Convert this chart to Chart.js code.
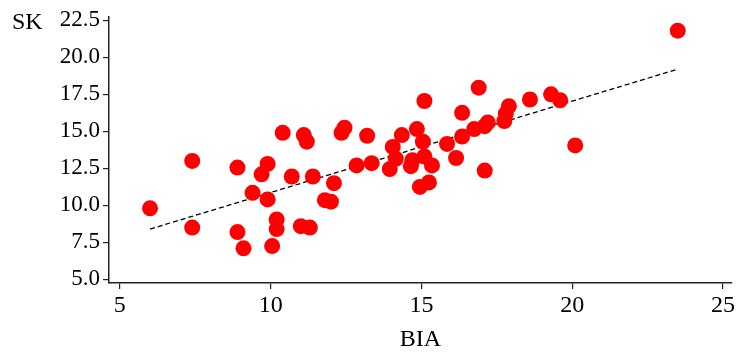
<!DOCTYPE html>
<html lang="en">
<head>
    <meta charset="UTF-8">
    <title>SK vs BIA</title>
    <style>
        body {
            margin: 0;
            padding: 0;
            background-color: #ffffff;
        }
        .chart-box {
            position: relative;
            width: 740px;
            height: 354px;
        }
    </style>
</head>
<body>
    <div class="chart-box">
        <canvas id="scatterChart"></canvas>
    </div>

    <script src="https://cdn.jsdelivr.net/npm/chart.js"></script>
    <script>
        // Values
        const bia = [6.0, 7.4, 7.4, 8.9, 8.9, 9.1, 9.4, 9.7, 9.9, 9.9,
                     10.05, 10.2, 10.2, 10.4, 10.7, 11.0, 11.1, 11.2, 11.3, 11.4,
                     11.8, 12.0, 12.1, 12.35, 12.45, 12.85, 13.2, 13.35, 13.95, 14.05,
                     14.15, 14.35, 14.65, 14.7, 14.85, 15.05, 15.1, 15.1, 15.35, 14.95,
                     15.25, 15.85, 16.15, 16.35, 16.35, 16.75, 16.9, 17.1, 17.1, 17.2,
                     17.75, 17.8, 17.9, 18.6, 19.3, 19.6, 20.1, 23.5];
        const sk = [9.8, 13.0, 8.5, 12.55, 8.2, 7.1, 10.85, 12.1, 12.8, 10.4,
                    7.25, 9.05, 8.4, 14.9, 11.95, 8.6, 14.75, 14.3, 8.5, 11.95,
                    10.35, 10.25, 11.5, 14.9, 15.25, 12.7, 14.7, 12.85, 12.45, 13.95,
                    13.15, 14.75, 12.65, 13.05, 15.15, 14.3, 13.3, 17.05, 12.7, 11.25,
                    11.55, 14.15, 13.2, 16.25, 14.65, 15.15, 17.95, 12.35, 15.35, 15.6,
                    15.7, 16.2, 16.7, 17.15, 17.5, 17.1, 14.05, 21.8];

        // Fitted line (ends)
        const fitX = [6.0, 23.5];
        const fitY = [8.4, 19.2];

        const xTicks = [5, 10, 15, 20, 25];
        const yTicks = [5, 7.5, 10, 12.5, 15, 17.5, 20, 22.5];

        const serif = "'Liberation Serif', 'Times New Roman', serif";

        // Y axis label sits at the top-left, horizontal
        const cornerLabel = {
            id: 'cornerLabel',
            afterDraw(chart) {
                const ctx = chart.ctx;
                ctx.save();
                ctx.font = '24px ' + serif;
                ctx.fillStyle = '#000';
                ctx.textBaseline = 'middle';
                ctx.textAlign = 'left';
                ctx.fillText('SK', 12, 23);
                ctx.restore();
            }
        };

        const axisStyle = {
            grid: { drawOnChartArea: false, drawTicks: true, tickLength: 6, color: '#222', lineWidth: 1.2 },
            border: { display: true, color: '#222', width: 1.5 }
        };

        new Chart(document.getElementById('scatterChart'), {
            type: 'scatter',
            data: {
                datasets: [{
                    label: 'SK',
                    data: bia.map((v, i) => ({ x: v, y: sk[i] })),
                    backgroundColor: '#ff0000',
                    borderColor: '#ff0000',
                    pointRadius: 8,
                    pointHoverRadius: 8,
                    borderWidth: 0
                }, {
                    label: 'fit',
                    data: fitX.map((v, i) => ({ x: v, y: fitY[i] })),
                    showLine: true,
                    borderColor: '#000',
                    borderWidth: 1.3,
                    borderDash: [5, 3],
                    pointRadius: 0,
                    fill: false
                }]
            },
            options: {
                responsive: true,
                maintainAspectRatio: false,
                animation: false,
                layout: { padding: { top: 17, right: 2, left: 0, bottom: 0 } },
                plugins: {
                    legend: { display: false },
                    tooltip: { enabled: false }
                },
                scales: {
                    x: {
                        type: 'linear',
                        min: 4.64,
                        max: 25.3,
                        afterBuildTicks: s => { s.ticks = xTicks.map(v => ({ value: v })); },
                        afterFit: s => { s.height = 71; },
                        ...axisStyle,
                        ticks: { color: '#000', font: { family: serif, size: 24 }, padding: 2, maxRotation: 0, autoSkip: false },
                        title: { display: true, text: 'BIA', color: '#000', font: { family: serif, size: 24 }, padding: { top: 0, bottom: 0 } }
                    },
                    y: {
                        type: 'linear',
                        min: 4.76,
                        max: 22.72,
                        afterBuildTicks: s => { s.ticks = yTicks.map(v => ({ value: v })); },
                        afterFit: s => { s.width = 109; },
                        ...axisStyle,
                        ticks: { color: '#000', font: { family: serif, size: 23 }, padding: 3, autoSkip: false,
                                 callback: v => v.toFixed(1) }
                    }
                }
            },
            plugins: [cornerLabel]
        });
    </script>
</body>
</html>
